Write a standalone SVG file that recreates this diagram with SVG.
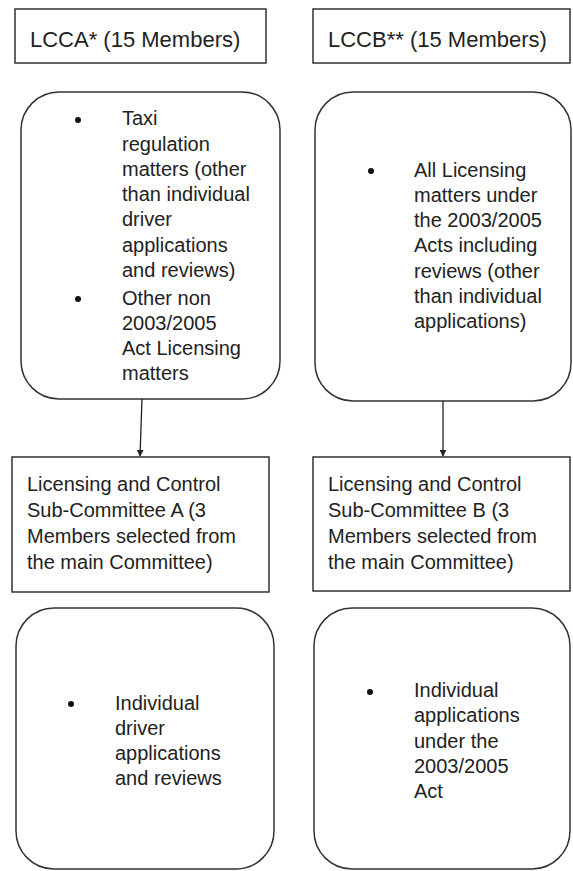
<svg xmlns="http://www.w3.org/2000/svg" width="573" height="871" viewBox="0 0 573 871">
<defs>
<style>
.box{fill:#fff;stroke:#333;stroke-width:1.5}
.t{font-family:"Liberation Sans",Arial,sans-serif;font-size:20px;fill:#222}
.h{font-family:"Liberation Sans",Arial,sans-serif;font-size:22px;fill:#222}
.conn{stroke:#222;stroke-width:1.3;fill:none}
</style>
<marker id="ah" viewBox="0 0 10 10" refX="9" refY="5" markerWidth="7" markerHeight="7" markerUnits="userSpaceOnUse" orient="auto">
<path d="M0,0 L10,5 L0,10 z" fill="#222"/>
</marker>
</defs>
<rect width="573" height="871" fill="#fff"/>
<g id="lcca">
<rect class="box" x="15" y="9" width="251" height="54"/>
<text class="h" x="30" y="47">LCCA* (15 Members)</text>
</g>
<g id="lccb">
<rect class="box" x="313" y="9" width="257" height="54"/>
<text class="h" x="328" y="47">LCCB** (15 Members)</text>
</g>
<g id="lcca-remit">
<rect class="box" x="21" y="92" width="259" height="307" rx="38" ry="38"/>
<circle cx="78" cy="120" r="3" fill="#111"/>
<text class="t"><tspan x="122" y="125">Taxi</tspan><tspan x="122" y="150.5">regulation</tspan><tspan x="122" y="176">matters (other</tspan><tspan x="122" y="201">than individual</tspan><tspan x="122" y="226">driver</tspan><tspan x="122" y="251.5">applications</tspan><tspan x="122" y="277">and reviews)</tspan></text>
<circle cx="78" cy="299" r="3" fill="#111"/>
<text class="t"><tspan x="122" y="305">Other non</tspan><tspan x="122" y="330">2003/2005</tspan><tspan x="122" y="355">Act Licensing</tspan><tspan x="122" y="380">matters</tspan></text>
</g>
<g id="lccb-remit">
<rect class="box" x="315" y="92" width="256" height="309" rx="38" ry="38"/>
<circle cx="371" cy="171" r="3" fill="#111"/>
<text class="t"><tspan x="414" y="177">All Licensing</tspan><tspan x="414" y="202">matters under</tspan><tspan x="414" y="227">the 2003/2005</tspan><tspan x="414" y="252">Acts including</tspan><tspan x="414" y="278">reviews (other</tspan><tspan x="414" y="303">than individual</tspan><tspan x="414" y="328">applications)</tspan></text>
</g>
<g id="subA">
<rect class="box" x="12" y="457" width="257" height="135"/>
<text class="t"><tspan x="27" y="491">Licensing and Control</tspan><tspan x="27" y="517">Sub-Committee A (3</tspan><tspan x="27" y="543">Members selected from</tspan><tspan x="27" y="569">the main Committee)</tspan></text>
</g>
<g id="subB">
<rect class="box" x="313" y="457" width="257" height="134"/>
<text class="t"><tspan x="328" y="491">Licensing and Control</tspan><tspan x="328" y="517">Sub-Committee B (3</tspan><tspan x="328" y="543">Members selected from</tspan><tspan x="328" y="569">the main Committee)</tspan></text>
</g>
<g id="subA-remit">
<rect class="box" x="16" y="608" width="258" height="261" rx="38" ry="38"/>
<circle cx="71" cy="704" r="3" fill="#111"/>
<text class="t"><tspan x="115" y="710">Individual</tspan><tspan x="115" y="735">driver</tspan><tspan x="115" y="760">applications</tspan><tspan x="115" y="785">and reviews</tspan></text>
</g>
<g id="subB-remit">
<rect class="box" x="314" y="608" width="256" height="261" rx="38" ry="38"/>
<circle cx="370" cy="692" r="3" fill="#111"/>
<text class="t"><tspan x="414" y="697">Individual</tspan><tspan x="414" y="722">applications</tspan><tspan x="414" y="748">under the</tspan><tspan x="414" y="773">2003/2005</tspan><tspan x="414" y="798">Act</tspan></text>
</g>
<g id="connectors">
<line class="conn" x1="142" y1="399" x2="140" y2="456" marker-end="url(#ah)"/>
<line class="conn" x1="443" y1="401" x2="443" y2="456" marker-end="url(#ah)"/>
</g>
</svg>
